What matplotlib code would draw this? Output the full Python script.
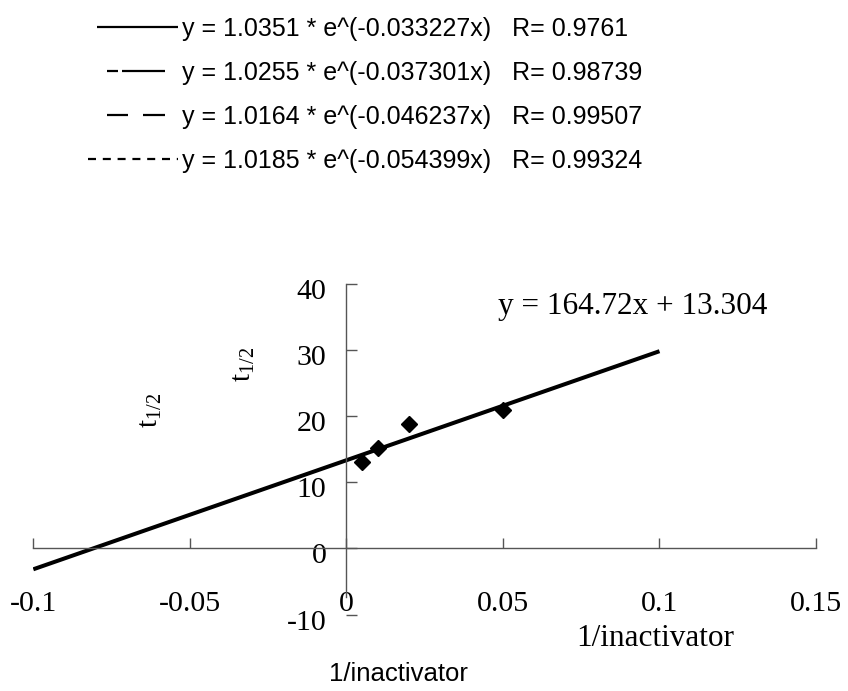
import numpy as np
import matplotlib
matplotlib.use("Agg")
import matplotlib.pyplot as plt
from matplotlib.lines import Line2D
from matplotlib.transforms import ScaledTranslation

# 1/inactivator vs half-life, with the linear trend fitted in the sheet
inv_inactivator = [0.005, 0.01, 0.02, 0.05]
half_life = [13.0, 15.1, 18.8, 20.9]
slope, intercept = 164.72, 13.304
trend_x = [-0.1, 0.1]

# first-order decay fits listed above the plot
decay_a = [1.0351, 1.0255, 1.0164, 1.0185]
decay_k = [0.033227, 0.037301, 0.046237, 0.054399]
decay_r = ["0.9761", "0.98739", "0.99507", "0.99324"]

x_ticks = [-0.1, -0.05, 0, 0.05, 0.1, 0.15]
y_ticks = [-10, 0, 10, 20, 30, 40]

plt.rcParams["axes.unicode_minus"] = False
plt.rcParams["lines.scale_dashes"] = False
plt.rcParams["mathtext.fontset"] = "custom"
plt.rcParams["mathtext.rm"] = "Liberation Serif"
plt.rcParams["mathtext.it"] = "Liberation Serif:italic"

SERIF = "Liberation Serif"
SANS = "Liberation Sans"
DPI = 100
px = 72.0 / DPI  # one pixel in points

fig = plt.figure(figsize=(8.48, 6.91), dpi=DPI)
ax = fig.add_axes([0.0393, 0.1107, 0.923, 0.479])
ax.set_xlim(-0.1, 0.15)
ax.set_ylim(-10, 40)

for side in ("top", "right"):
    ax.spines[side].set_visible(False)
for side in ("left", "bottom"):
    ax.spines[side].set_position(("data", 0))
    ax.spines[side].set_color("#555555")
    ax.spines[side].set_linewidth(1.0)
ax.spines["left"].set_bounds(-7.4, 40)

ax.set_xticks(x_ticks)
ax.set_xticklabels([f"{v:g}" for v in x_ticks])
ax.set_yticks(y_ticks)
ax.set_yticklabels([f"{v:g}" for v in y_ticks])
ax.tick_params(axis="x", direction="in", length=7, width=1, color="#555555",
               pad=31, labelsize=21.5)
ax.tick_params(axis="y", direction="in", length=8, width=1, color="#555555",
               pad=14.5, labelsize=21.5)
for lab in ax.get_xticklabels() + ax.get_yticklabels():
    lab.set_fontfamily(SERIF)
shift = ScaledTranslation(0, -5 / DPI, fig.dpi_scale_trans)
for lab in ax.get_yticklabels():
    lab.set_transform(lab.get_transform() + shift)

tx = np.array(trend_x)
ax.plot(tx, slope * tx + intercept, color="black", lw=2.9, solid_capstyle="butt",
        zorder=2)
ax.plot(inv_inactivator, half_life, linestyle="none", marker="D", ms=8.3,
        color="black", zorder=3)

ax.text(0.0483, 36.5, f"y = {slope:g}x + {intercept:g}", fontsize=22.5,
        family=SERIF, va="center", ha="left")

# stray axis titles
fig.text(150 / 848, 1 - 410 / 691, r"$\mathrm{t}_{1/2}$", rotation=90,
         fontsize=21, ha="center", va="center")
fig.text(243 / 848, 1 - 364 / 691, r"$\mathrm{t}_{1/2}$", rotation=90,
         fontsize=21, ha="center", va="center")
fig.text(655 / 848, 1 - 638 / 691, "1/inactivator", fontsize=22.5, family=SERIF,
         ha="center", va="center")
fig.text(398 / 848, 1 - 674 / 691, "1/inactivator", fontsize=18.5, family=SANS,
         ha="center", va="center")

# legend handles: (on/off pattern in px, blank lead-in in px)
styles = [
    ([82, 100], 9),
    ([11, 4, 43, 100], 19),
    ([21, 15, 22, 100], 19),
    ([8, 6.8], 0),
]
handles = []
labels = []
for (seq, lead), a, k, r in zip(styles, decay_a, decay_k, decay_r):
    seq_pt = [s * px for s in seq]
    offset = (sum(seq) - lead) * px if lead else 0
    handles.append(Line2D([], [], color="black", lw=1.6,
                          linestyle=(offset, seq_pt), dash_capstyle="butt"))
    labels.append(f"y = {a:.4f} * e^(-{k:g}x)   R= {r}")

fig.legend(handles, labels, loc="upper left", bbox_to_anchor=(88 / 848, 1 - 17 / 691),
           frameon=False, borderpad=0, borderaxespad=0,
           handlelength=90 / (18 / px), handletextpad=0.15, labelspacing=0.8,
           prop={"family": SANS, "size": 18})

fig.savefig("out.png", dpi=DPI)
